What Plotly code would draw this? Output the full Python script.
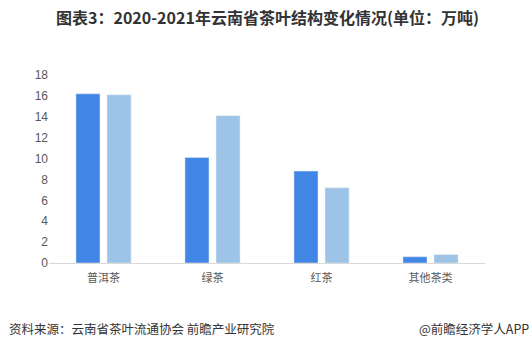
import plotly.graph_objects as go

categories = ["普洱茶", "绿茶", "红茶", "其他茶类"]
values_2020 = [16.2, 10.1, 8.8, 0.6]
values_2021 = [16.1, 14.1, 7.2, 0.8]
y_ticks = [0, 2, 4, 6, 8, 10, 12, 14, 16, 18]

fig = go.Figure()
fig.add_trace(go.Bar(x=categories, y=values_2020, name="2020", marker_color="#4186E4"))
fig.add_trace(go.Bar(x=categories, y=values_2021, name="2021", marker_color="#9DC3E6"))

font_family = "Noto Sans CJK SC, Liberation Sans, sans-serif"
fig.update_layout(
    width=532, height=354,
    margin=dict(l=49, r=47, t=75, b=91),
    paper_bgcolor="white", plot_bgcolor="white",
    barmode="group", bargap=0.43, bargroupgap=0.226,
    showlegend=False,
    font=dict(family=font_family, color="#595959", size=11),
)
fig.update_yaxes(range=[0, 18], tickvals=y_ticks, showgrid=False, zeroline=False,
                 showline=False, ticks="",
                 tickfont=dict(size=12, color="#595959", family="Liberation Sans, Arial, sans-serif"))
fig.update_xaxes(showline=True, linecolor="#D9D9D9", linewidth=1, ticks="",
                 ticklabelstandoff=5,
                 tickfont=dict(size=11, color="#595959"))
fig.add_annotation(text="<b>图表3：2020-2021年云南省茶叶结构变化情况(单位：万吨)</b>",
                   xref="paper", yref="paper", x=0.5, y=1, yshift=58, showarrow=False,
                   xanchor="center", yanchor="middle",
                   font=dict(size=16, color="#333333", family=font_family))
fig.add_annotation(text="资料来源：云南省茶叶流通协会 前瞻产业研究院",
                   xref="paper", yref="paper", x=0, xshift=-42, y=0, yshift=-65,
                   showarrow=False, xanchor="left", yanchor="middle",
                   font=dict(size=12.5, color="#333333", family=font_family))
fig.add_annotation(text="@前瞻经济学人APP",
                   xref="paper", yref="paper", x=1, xshift=46, y=0, yshift=-65,
                   showarrow=False, xanchor="right", yanchor="middle",
                   font=dict(size=12.5, color="#333333", family=font_family))
fig.write_html("out.html")
